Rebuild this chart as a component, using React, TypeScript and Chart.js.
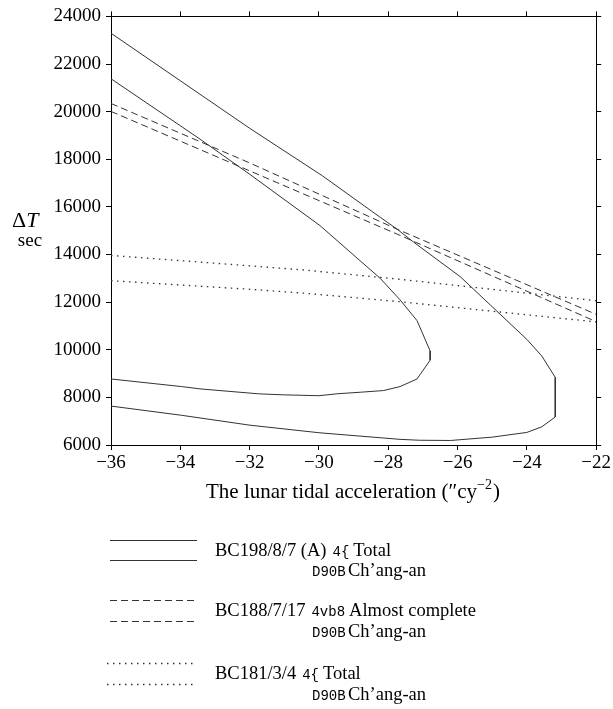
import { useEffect, useRef } from 'react';
import { Chart, registerables } from 'chart.js';

Chart.register(...registerables);

const SERIF = '"Liberation Serif", "Times New Roman", serif';
const MONO = '"Liberation Mono", "DejaVu Sans Mono", monospace';

// Axis ranges / ticks
const xRange = [-36, -22];
const xStep = 2;
const yRange = [6000, 24000];
const yStep = 2000;

// BC198/8/7 (A) – outer contour
const solidOuterX = [-36, -32, -29.9, -28.23, -27.74, -27.27, -25.92, -24.0, -23.57, -23.18, -23.18, -23.57, -24.0, -25.0, -26.2, -27.1, -27.66, -29.97, -31.99, -33.96, -36];
const solidOuterY = [23293, 19303, 17307, 15561, 15062, 14522, 13067, 10436, 9741, 8839, 7176, 6762, 6528, 6330, 6190, 6200, 6237, 6511, 6832, 7247, 7634];

// BC198/8/7 (A) – inner contour
const solidInnerX = [-36, -33.43, -31.99, -29.97, -28.23, -27.66, -27.17, -26.79, -26.79, -27.17, -27.66, -28.14, -28.81, -29.48, -30.0, -31.03, -31.75, -33.43, -33.96, -36];
const solidInnerY = [21381, 18845, 17362, 15216, 12997, 12098, 11226, 9949, 9563, 8773, 8453, 8286, 8216, 8150, 8070, 8107, 8150, 8357, 8453, 8772];

// BC188/7/17 – dashed
const dashUpperX = [-36, -32, -27.74, -22];
const dashUpperY = [20342, 17848, 15062, 11487];
const dashLowerX = [-36, -32, -27.74, -22];
const dashLowerY = [20009, 17515, 14855, 11180];

// BC181/3/4 – dotted
const dotUpperX = [-36, -31.99, -30.4, -27.74, -22];
const dotUpperY = [13961, 13524, 13345, 12971, 12060];
const dotLowerX = [-36, -31.99, -30.4, -27.74, -22];
const dotLowerY = [12901, 12539, 12373, 12028, 11170];

// Legend texts
const legendDate = ['BC198/8/7 (A)', 'BC188/7/17', 'BC181/3/4'];
const legendCode = ['4{', '4vb8', '4{'];
const legendKind = ['Total', 'Almost complete', 'Total'];
const legendPlaceCode = 'D90B';
const legendPlace = 'Ch’ang-an';

const xTitle = 'The lunar tidal acceleration (″cy';
const xTitleSup = '−2';
const yTitle = 'T';
const yUnit = 'sec';

const LINE_COLOR = '#333';
const DASH = [7, 4];
const DOT = [1.5, 4.5];

const zip = (xs: number[], ys: number[]) => xs.map((x, i) => ({ x, y: ys[i] }));

const mkSet = (label: string, xs: number[], ys: number[], dash: number[], width = 1) => ({
  label,
  data: zip(xs, ys),
  showLine: true,
  borderColor: LINE_COLOR,
  borderWidth: width,
  borderDash: dash,
  pointRadius: 0,
  pointHoverRadius: 0,
  fill: false,
  tension: 0,
});

const fmtNum = (v: number | string) => {
  const n = Number(v);
  return n < 0 ? '−' + String(Math.abs(n)) : String(n);
};

const decorPlugin = {
  id: 'decor',
  afterDraw(chart: any) {
    const ctx = chart.ctx as CanvasRenderingContext2D;
    ctx.save();
    ctx.fillStyle = '#000';
    ctx.textBaseline = 'alphabetic';
    ctx.textAlign = 'left';

    // Y title
    ctx.font = `22px ${SERIF}`;
    ctx.fillText('Δ', 12, 227);
    const dw = ctx.measureText('Δ').width;
    ctx.font = `italic 22px ${SERIF}`;
    ctx.fillText(yTitle, 12 + dw, 227);
    ctx.font = `19px ${SERIF}`;
    ctx.textAlign = 'center';
    ctx.fillText(yUnit, 30, 246);

    // X title
    ctx.textAlign = 'left';
    ctx.font = `21px ${SERIF}`;
    const w1 = ctx.measureText(xTitle).width;
    ctx.font = `14px ${SERIF}`;
    const w2 = ctx.measureText(xTitleSup).width;
    ctx.font = `21px ${SERIF}`;
    const w3 = ctx.measureText(')').width;
    const total = w1 + w2 + w3 + 1;
    let sx = 353 - total / 2;
    const by = 498;
    ctx.fillText(xTitle, sx, by);
    sx += w1;
    ctx.font = `14px ${SERIF}`;
    ctx.fillText(xTitleSup, sx, by - 9);
    sx += w2 + 1;
    ctx.font = `21px ${SERIF}`;
    ctx.fillText(')', sx, by);

    // Legend
    const entries = [
      { dash: [] as number[], w: 1, ly: [540, 560], x0: 110, x1: 197, b1: 556, b2: 576 },
      { dash: DASH, w: 1, ly: [600, 621], x0: 110, x1: 197, b1: 616, b2: 637 },
      { dash: DOT, w: 1.3, ly: [663, 684], x0: 107, x1: 193, b1: 679, b2: 700 },
    ];
    entries.forEach((e, i) => {
      ctx.strokeStyle = LINE_COLOR;
      ctx.lineWidth = e.w;
      ctx.setLineDash(e.dash);
      e.ly.forEach((y) => {
        ctx.beginPath();
        ctx.moveTo(e.x0, y + 0.5);
        ctx.lineTo(e.x1, y + 0.5);
        ctx.stroke();
      });
      ctx.setLineDash([]);
      ctx.textAlign = 'left';
      let tx = 215;
      ctx.font = `18.5px ${SERIF}`;
      ctx.fillText(legendDate[i], tx, e.b1);
      tx += ctx.measureText(legendDate[i]).width + 6;
      ctx.font = `14px ${MONO}`;
      ctx.fillText(legendCode[i], tx, e.b1);
      tx += ctx.measureText(legendCode[i]).width + 4;
      ctx.font = `18.5px ${SERIF}`;
      ctx.fillText(legendKind[i], tx, e.b1);

      ctx.font = `14px ${MONO}`;
      ctx.fillText(legendPlaceCode, 312, e.b2);
      ctx.font = `18.5px ${SERIF}`;
      ctx.fillText(legendPlace, 348, e.b2);
    });
    ctx.restore();
  },
};

export default function App() {
  const ref = useRef<HTMLCanvasElement | null>(null);

  useEffect(() => {
    document.body.style.margin = '0';
    const canvas = ref.current;
    if (!canvas) return;

    const gridCommon = {
      drawOnChartArea: false,
      drawTicks: true,
      tickLength: 5,
      color: '#000',
      lineWidth: 1,
    };
    const borderCommon = { display: true, color: '#000', width: 1 };
    const tickFont = { family: SERIF, size: 19 };

    const chart = new Chart(canvas, {
      type: 'scatter',
      data: {
        datasets: [
          mkSet('A outer', solidOuterX, solidOuterY, []),
          mkSet('A inner', solidInnerX, solidInnerY, []),
          mkSet('B upper', dashUpperX, dashUpperY, DASH),
          mkSet('B lower', dashLowerX, dashLowerY, DASH),
          mkSet('C upper', dotUpperX, dotUpperY, DOT, 1.3),
          mkSet('C lower', dotLowerX, dotLowerY, DOT, 1.3),
        ] as any,
      },
      options: {
        responsive: false,
        animation: false,
        layout: { padding: 0 },
        plugins: {
          legend: { display: false },
          tooltip: { enabled: false },
          title: { display: false },
        },
        scales: {
          x: {
            type: 'linear',
            position: 'bottom',
            min: xRange[0],
            max: xRange[1],
            ticks: { stepSize: xStep, color: '#000', font: tickFont, padding: 2, callback: (v: any) => fmtNum(v), maxRotation: 0 },
            grid: gridCommon,
            border: borderCommon,
            afterFit: (s: any) => { s.height = 264; },
          },
          x2: {
            type: 'linear',
            position: 'top',
            min: xRange[0],
            max: xRange[1],
            ticks: { stepSize: xStep, display: false },
            grid: gridCommon,
            border: borderCommon,
            afterFit: (s: any) => { s.height = 12; },
          },
          y: {
            type: 'linear',
            position: 'left',
            min: yRange[0],
            max: yRange[1],
            ticks: { stepSize: yStep, color: '#000', font: tickFont, padding: 5, callback: (v: any) => fmtNum(v) },
            grid: gridCommon,
            border: borderCommon,
            afterFit: (s: any) => { s.width = 111; },
          },
          y2: {
            type: 'linear',
            position: 'right',
            min: yRange[0],
            max: yRange[1],
            ticks: { stepSize: yStep, display: false },
            grid: gridCommon,
            border: borderCommon,
            afterFit: (s: any) => { s.width = 16; },
          },
        },
      } as any,
      plugins: [decorPlugin],
    });
    return () => chart.destroy();
  }, []);

  return (
    <div style={{ width: 613, height: 709, background: '#fff' }}>
      <canvas ref={ref} width={613} height={709} style={{ display: 'block' }} />
    </div>
  );
}
